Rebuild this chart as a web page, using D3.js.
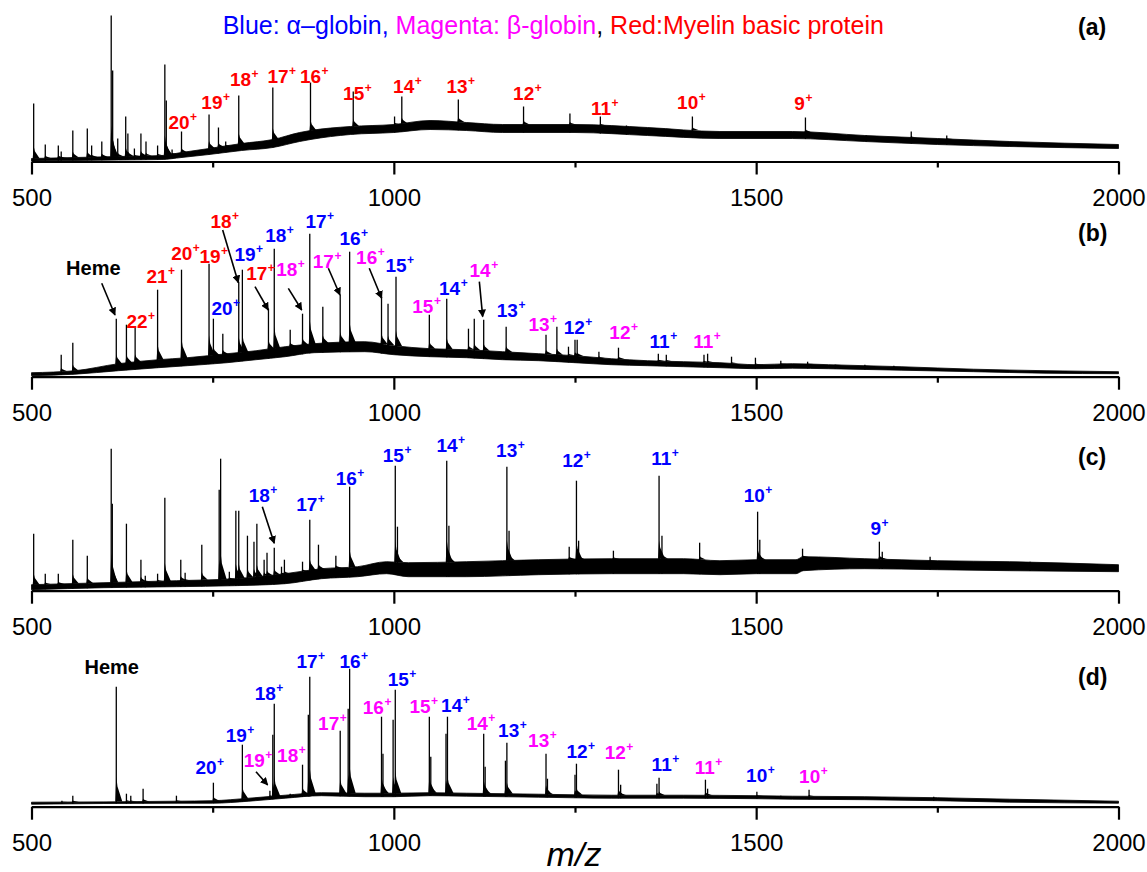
<!DOCTYPE html>
<html>
<head>
<meta charset="utf-8">
<script src="https://cdn.jsdelivr.net/npm/d3@7"></script>
<style>
  html, body { margin: 0; padding: 0; background: #fff; }
  svg { display: block; font-family: Arial, "Liberation Sans", Helvetica, sans-serif; }
</style>
</head>
<body>
<svg id="chart" width="1147" height="872"></svg>
<script>
// ---------- DATA (m/z, relative intensity) ----------
const xTicksMajor = [500, 1000, 1500, 2000];
const xTicksMinor = [750, 1250, 1750];
const panelNames = ["(a)", "(b)", "(c)", "(d)"];

// baseline noise band: [m/z, low, high]
const baseA = [[500,0.5,3],[560,1,4],[620,1.5,5],[680,2,6],[707,4,9],[745,7,13],[790,11,18],[833,14,22],[870,20,29],[885,22,31],[940,27,35],[1000,29,37],[1050,32,41],[1100,31,39],[1150,29,37],[1250,29,37],[1350,26,34],[1450,23,30],[1550,23,30],[1650,20,26],[1750,17,23],[1850,15,20],[2000,13,17]];
const baseB = [[500,1,4],[560,2.5,6],[620,6,13],[675,9,17],[715,11,19],[770,14,23],[810,17,26],[850,20,30],[890,24,33],[960,25,35],[1000,22,31],[1050,20,28],[1100,19,27],[1150,17,25],[1200,16,23],[1250,14,21],[1300,12,18],[1350,11,16],[1400,10,15],[1450,9,14],[1500,8,12],[1550,8.5,13],[1600,8,12],[1700,6.5,10],[1800,5,7.5],[1900,3.5,6],[2000,3,5]];
const baseC = [[500,1,6],[600,3,8],[700,4,10],[780,5,12],[850,7,17],[900,12,22],[950,14,24],[990,17,29],[1020,14,28],[1100,14,29],[1200,16,31],[1300,17,32],[1400,17,32],[1450,16,30],[1500,17,31],[1555,17,31],[1565,20,34],[1650,22,32],[1750,21,30],[1850,20,29],[2000,19,26]];
const baseD = [[500,2.5,4.5],[700,3.5,5.5],[750,3.5,6],[800,5.5,8.5],[850,8.5,11.5],[900,11,14],[960,10,13.5],[1000,10,13.5],[1050,11,14],[1100,10.5,13.5],[1200,9.5,12.5],[1300,8.5,11.5],[1400,8.5,11.5],[1500,8,11],[1550,7.5,10.5],[1650,7,10],[1750,6,9],[1850,4.5,7.5],[2000,3.5,5.5]];

// peaks: [m/z, height]
const peaksA = [[503,58],[519,17],[537,16],[541,10],[557,31],[577,33],[583,16],[597,20],[610,146],[612,91],[619,23],[630,45],[633,28],[642,13],[651,28],[658,20],[674,16],[684,97],[686,61],[694,12],[707,30],[745,47],[758,34],[768,20],[786,66],[833,74],[885,79],[944,70],[1001,45],[1011,65],[1089,62],[1179,55],[1243,48],[1285,45],[1321,36],[1412,45],[1568,44],[1652,26],[1714,30],[1763,26]];
const peaksB = [[541,22],[557,34],[617,58],[631,52],[643,50],[674,87],[707,107],[745,113],[751,58],[764,43],[786,95],[791,107],[827,68],[835,128],[857,47],[874,63],[884,143],[902,70],[926,82],[939,125],[983,80],[992,73],[1003,100],[1049,62],[1073,78],[1103,48],[1111,58],[1124,57],[1155,50],[1210,42],[1225,50],[1241,30],[1250,37],[1253,37],[1283,25],[1310,29],[1365,23],[1376,22],[1428,22],[1433,23],[1466,20],[1499,19],[1534,16],[1571,15],[1609,12],[1650,12],[1690,11]];
const peaksC = [[503,57],[519,17],[537,17],[557,51],[577,35],[610,142],[611.5,87],[631,67],[651,31],[657,15],[674,17],[684,93],[706,31],[712,18],[735,46],[759,101],[761,132],[773,19],[782,80],[786,80],[798,55],[807,49],[811,67],[821,31],[825,38],[835,43],[845,24],[849,31],[874,29],[884,71],[896,46],[920,35],[939,104],[1002,125],[1005,64],[1073,130],[1076,65],[1156,124],[1159,60],[1242,44],[1252,110],[1255,50],[1303,40],[1366,115],[1370,55],[1422,48],[1502,79],[1505,51],[1564,42],[1670,49],[1674,39],[1740,34],[1878,29]];
const peaksD = [[542,6],[557,11],[617,120],[631,13],[637,11],[654,18],[700,11],[751,24],[791,62],[829,16],[833,72],[835,103],[857,13],[874,42],[882,92],[884,130],[926,76],[937,98],[939,138],[983,90],[985,53],[999,87],[1002,117],[1049,90],[1051,50],[1072,73],[1074,90],[1124,73],[1126,40],[1154,46],[1156,64],[1210,53],[1212,28],[1250,32],[1252,43],[1310,37],[1313,22],[1363,23],[1366,29],[1430,27],[1433,18],[1501,15],[1534,11],[1573,17],[1690,9],[1745,10]];

// annotation labels: [m/z, height of text baseline, charge, series]  r=myelin, b=alpha, m=beta, k=heme
const labelsA = [[703.5,33,"20","r"],[749,53,"19","r"],[788.4,75.5,"18","r"],[840.1,78.8,"17","r"],[885,78.8,"16","r"],[944.6,61.5,"15","r"],[1013.6,68.2,"14","r"],[1087.1,68.2,"13","r"],[1179.2,61.5,"12","r"],[1285.8,46.5,"11","r"],[1405.5,52.5,"10","r"],[1560,51.5,"9","r"]];
const labelsB = [[585.3,101.7,"Heme","k"],[645.6,49,"22","r"],[673.2,93.4,"21","r"],[707.3,116.7,"20","r"],[746.3,113.4,"19","r"],[761.5,148.4,"18","r"],[794.6,115.7,"19","b"],[762.9,61.7,"20","b"],[810.8,96.7,"17","r"],[837,134.4,"18","b"],[852.2,100.7,"18","m"],[892.6,148.4,"17","b"],[902.7,108.4,"17","m"],[939.5,131.7,"16","b"],[962.5,112.4,"16","m"],[1003,105,"15","b"],[1040,64,"15","m"],[1077,82,"14","b"],[1119,100,"14","m"],[1156.6,60,"13","b"],[1200.3,46,"13","m"],[1249,42.4,"12","b"],[1312,37.4,"12","m"],[1366.8,28.4,"11","b"],[1427,28.4,"11","m"]];
const labelsC = [[814.3,89,"18","b"],[879.8,80,"17","b"],[934.4,105.7,"16","b"],[999.3,129,"15","b"],[1073.3,139,"14","b"],[1155.7,134,"13","b"],[1246.9,123.4,"12","b"],[1369,125.7,"11","b"],[1497.4,89,"10","b"],[1665,55.7,"9","b"]];
const labelsD = [[610.7,132.4,"Heme","k"],[740.8,32.7,"20","b"],[782.6,65,"19","b"],[807.4,40,"19","m"],[822.5,106.7,"18","b"],[853.5,45,"18","m"],[880.2,138.4,"17","b"],[910.1,76.7,"17","m"],[939.5,139,"16","b"],[971.7,92.4,"16","m"],[1006.1,120.7,"15","b"],[1036.1,93.4,"15","m"],[1079.8,95,"14","b"],[1115.1,76.7,"14","m"],[1158.5,70,"13","b"],[1199.9,60,"13","m"],[1252.7,49,"12","b"],[1305.6,47.4,"12","m"],[1369.6,35.7,"11","b"],[1429,32.4,"11","m"],[1500.7,25,"10","b"],[1573.8,24,"10","m"]];

// arrows: [m/z start, height start, m/z end, height end]
const arrowsA = [];
const arrowsB = [[596.9,93.4,615.2,61.7],[763.8,146.7,785.4,94],[808.4,90,826.8,66.7],[854.4,88.4,872.9,66.7],[909.6,108.4,925.7,81.7],[966.1,108.4,983.2,78.4],[1118,95,1122.6,60]];
const arrowsC = [[818.5,84,835,47.4]];
const arrowsD = [[809.8,35,825.9,21.7]];

// ---------- DRAWING ----------
const colors = { r: "#ff0000", b: "#0000ff", m: "#ff00ff", k: "#000000" };
const svg = d3.select("#chart");
const x = d3.scaleLinear().domain([500, 2000]).range([31.5, 1118.5]);

const defs = svg.append("defs");
defs.append("marker").attr("id", "arrow").attr("viewBox", "0 0 10 10")
  .attr("refX", 9).attr("refY", 5).attr("markerWidth", 5).attr("markerHeight", 5)
  .attr("markerUnits", "strokeWidth").attr("orient", "auto")
  .append("path").attr("d", "M0,0 L10,5 L0,10 Z").attr("fill", "#000");

const panels = [
  { axisY: 161.5, base: baseA, peaks: peaksA, labels: labelsA, arrows: arrowsA, nameY: 35 },
  { axisY: 376.7, base: baseB, peaks: peaksB, labels: labelsB, arrows: arrowsB, nameY: 241 },
  { axisY: 590.7, base: baseC, peaks: peaksC, labels: labelsC, arrows: arrowsC, nameY: 465 },
  { axisY: 806.7, base: baseD, peaks: peaksD, labels: labelsD, arrows: arrowsD, nameY: 685 }
];

panels.forEach((p, i) => {
  const y = d3.scaleLinear().domain([0, 150]).range([p.axisY, p.axisY - 150]);
  const g = svg.append("g");
  const bx = p.base.map(d => d[0]);
  const lo = p.base.map(d => d[1]);
  const hi = p.base.map(d => d[2]);
  const interp = (arr, mz) => {
    const j = Math.max(1, Math.min(bx.length - 1, d3.bisectLeft(bx, mz)));
    const t = (mz - bx[j - 1]) / (bx[j] - bx[j - 1]);
    return arr[j - 1] + (arr[j] - arr[j - 1]) * t;
  };

  // noise band
  g.append("path").datum(p.base)
    .attr("d", d3.area().x(d => x(d[0])).y0(d => y(d[1])).y1(d => y(d[2])).curve(d3.curveMonotoneX))
    .attr("fill", "#000").attr("stroke", "#000").attr("stroke-width", 0.8);

  // peak tails
  g.selectAll("path.tail").data(p.peaks).join("path").attr("class", "tail")
    .attr("d", d => {
      const h = interp(hi, d[0]);
      const top = h + (d[1] - h) * 0.22;
      const px = x(d[0]);
      return `M${px - 1},${y(h)} L${px},${y(top)} L${px + 1.2},${y(h + (top - h) * 0.6)} L${px + 6},${y(h)} Z`;
    })
    .attr("fill", "#000");

  // peaks
  g.selectAll("line.pk").data(p.peaks).join("line").attr("class", "pk")
    .attr("x1", d => x(d[0])).attr("x2", d => x(d[0]))
    .attr("y1", d => y(interp(lo, d[0]))).attr("y2", d => y(d[1]))
    .attr("stroke", "#000").attr("stroke-width", 1.3);

  // axes
  const ax = g.append("g").attr("transform", `translate(0,${p.axisY})`)
    .call(d3.axisBottom(x).tickValues(xTicksMajor).tickSize(13).tickSizeOuter(0).tickPadding(14).tickFormat(d3.format("d")));
  ax.select(".domain").attr("stroke-width", 2.2);
  ax.selectAll(".tick line").attr("stroke-width", 2.2);
  ax.selectAll(".tick text").attr("font-size", 24).attr("font-family", "Arial, 'Liberation Sans', sans-serif").attr("fill", "#000");
  const axm = g.append("g").attr("transform", `translate(0,${p.axisY})`)
    .call(d3.axisBottom(x).tickValues(xTicksMinor).tickSize(6).tickSizeOuter(0).tickFormat(""));
  axm.select(".domain").remove();
  axm.selectAll(".tick line").attr("stroke-width", 2.2);

  // arrows
  g.selectAll("line.arr").data(p.arrows).join("line").attr("class", "arr")
    .attr("x1", d => x(d[0])).attr("y1", d => y(d[1]))
    .attr("x2", d => x(d[2])).attr("y2", d => y(d[3]))
    .attr("stroke", "#000").attr("stroke-width", 1.6).attr("marker-end", "url(#arrow)");

  // labels
  p.labels.forEach(l => {
    const lx = x(l[0]), ly = y(l[1]);
    if (l[3] === "k") {
      g.append("text").attr("x", lx).attr("y", ly).attr("text-anchor", "middle")
        .attr("font-size", 20).attr("font-weight", "bold").attr("fill", "#000").text(l[2]);
      return;
    }
    const t = g.append("text").attr("x", lx).attr("y", ly).attr("text-anchor", "middle")
      .attr("font-size", 19).attr("font-weight", "bold").attr("fill", colors[l[3]]).text(l[2]);
    const w = t.node().getComputedTextLength();
    g.append("text").attr("x", lx + w / 2 + 0.5).attr("y", ly - 8)
      .attr("font-size", 12).attr("font-weight", "bold").attr("fill", colors[l[3]]).text("+");
  });

  // panel name
  svg.append("text").attr("x", 1078).attr("y", p.nameY).attr("font-size", 23)
    .attr("font-weight", "bold").attr("fill", "#000").text(panelNames[i]);
});

// title
const title = svg.append("text").attr("x", 222.7).attr("y", 34.3).attr("font-size", 25);
title.append("tspan").attr("fill", colors.b).text("Blue: α–globin,");
title.append("tspan").attr("fill", colors.m).text(" Magenta: β-globin");
title.append("tspan").attr("fill", "#000").text(",");
title.append("tspan").attr("fill", colors.r).text(" Red:Myelin basic protein");

// x axis title
svg.append("text").attr("x", 574).attr("y", 866).attr("text-anchor", "middle")
  .attr("font-size", 34).attr("font-style", "italic").attr("fill", "#000").text("m/z");
</script>
</body>
</html>
